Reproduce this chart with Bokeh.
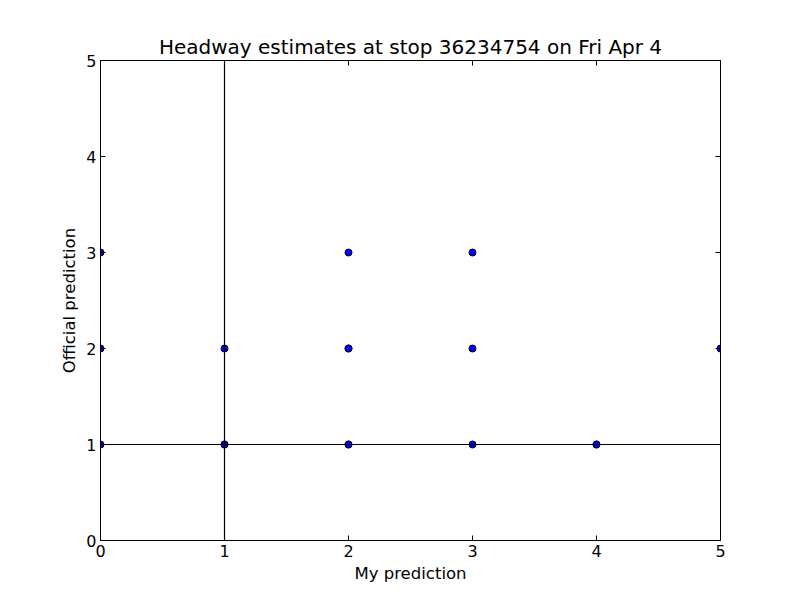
from bokeh.plotting import figure
from bokeh.models import Span, LinearAxis, FixedTicker, Range1d
from bokeh.embed import file_html
from bokeh.resources import INLINE

my_pred = [0, 0, 0, 1, 1, 1, 2, 2, 2, 2, 2, 3, 3, 3, 4, 4, 5]
official = [1, 2, 3, 1, 1, 2, 1, 1, 2, 2, 3, 1, 2, 3, 1, 1, 2]
ticks = [0, 1, 2, 3, 4, 5]
vline_x = 1
hline_y = 1

FONT = "DejaVu Sans"

p = figure(frame_width=620, frame_height=480, output_backend="svg", toolbar_location=None,
           x_range=Range1d(0, 5), y_range=Range1d(0, 5),
           min_border_left=100, min_border_right=64, min_border_top=60, min_border_bottom=44,
           title="Headway estimates at stop 36234754 on Fri Apr 4")
p.title.align = "center"
p.title.text_font = FONT
p.title.text_font_size = "20px"
p.title.text_font_style = "normal"
p.title.text_color = "black"
p.title.standoff = 4

p.grid.visible = False
p.outline_line_color = "black"
p.outline_line_width = 1
p.outline_line_alpha = 1
p.background_fill_color = "white"
p.border_fill_color = "white"

for ax in [p.xaxis[0], p.yaxis[0]]:
    ax.ticker = FixedTicker(ticks=ticks)
    ax.major_tick_in = 5
    ax.major_tick_out = 0
    ax.minor_tick_line_color = None
    ax.axis_line_color = "black"
    ax.major_label_text_font = FONT
    ax.major_label_text_font_size = "16px"
    ax.major_label_text_color = "black"
    ax.axis_label_text_font = FONT
    ax.axis_label_text_font_size = "16.5px"
    ax.axis_label_text_font_style = "normal"
    ax.axis_label_text_color = "black"
    ax.major_label_standoff = 4
    ax.axis_label_standoff = 4

p.xaxis.axis_label = "My prediction"
p.yaxis.axis_label = "Official prediction"

for loc in ["right", "above"]:
    ax = LinearAxis(ticker=FixedTicker(ticks=ticks))
    ax.major_tick_in = 5
    ax.major_tick_out = 0
    ax.minor_tick_line_color = None
    ax.axis_line_color = "black"
    ax.major_label_overrides = {t: "" for t in ticks}
    ax.major_label_standoff = 0
    p.add_layout(ax, loc)

p.add_layout(Span(location=vline_x, dimension="height", line_color="black", line_width=1.2))
p.add_layout(Span(location=hline_y, dimension="width", line_color="black", line_width=1.2))

p.scatter(my_pred, official, size=7, fill_color="blue", line_color="black", line_width=1)

open("out.html", "w").write(file_html(p, INLINE))
